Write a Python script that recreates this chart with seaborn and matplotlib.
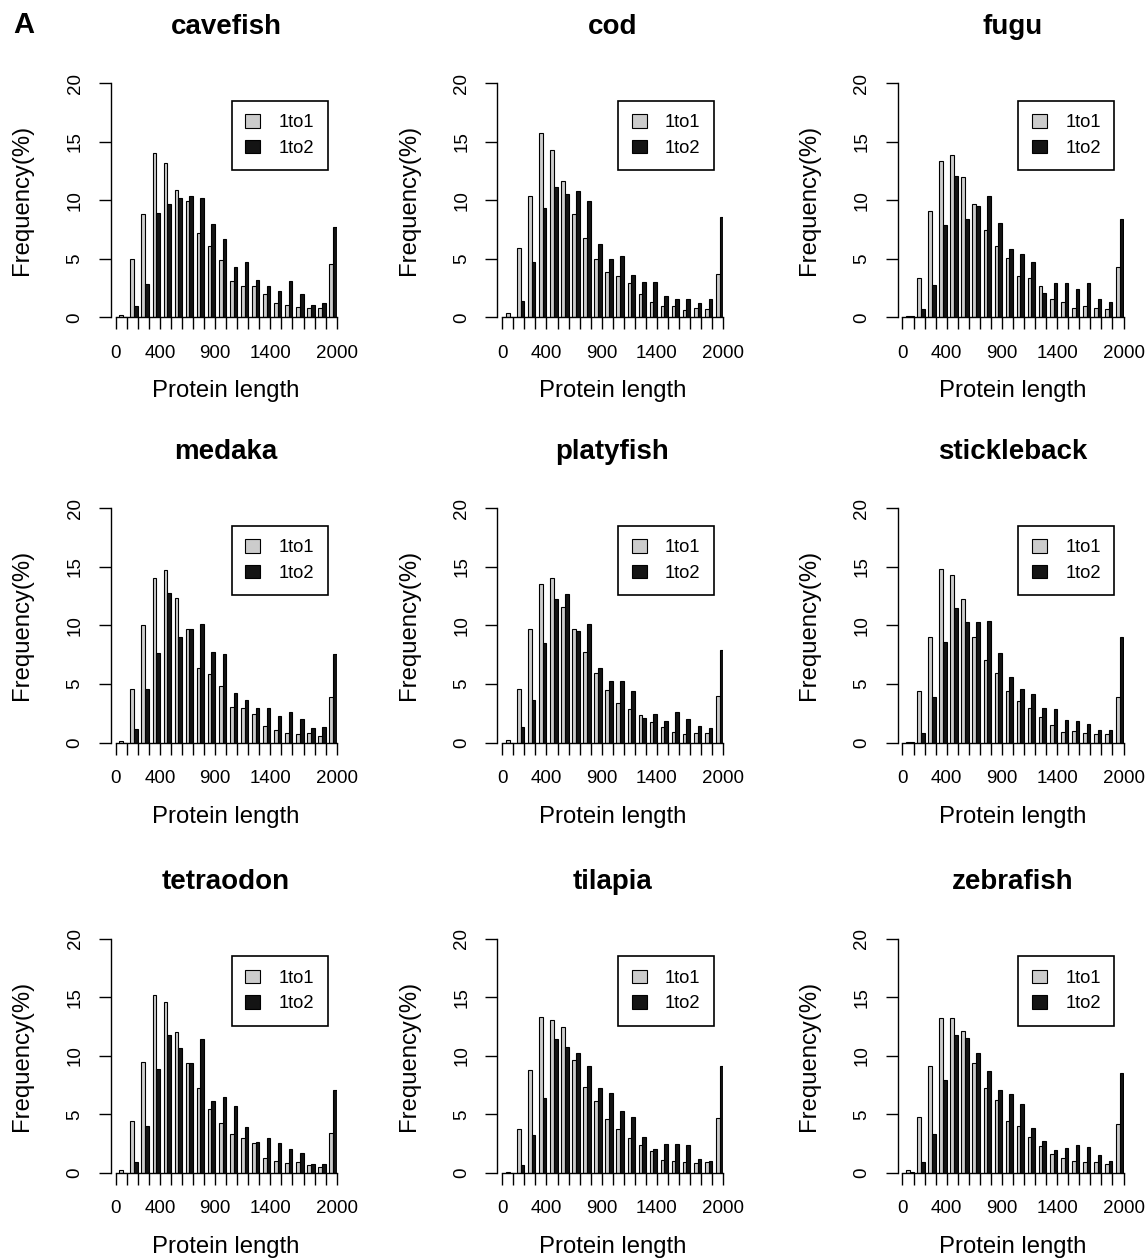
import numpy as np
import pandas as pd
import matplotlib
matplotlib.use("Agg")
import matplotlib.pyplot as plt
import seaborn as sns
from matplotlib.patches import Patch

# ---------------- data ----------------
species = ["cavefish", "cod", "fugu", "medaka", "platyfish", "stickleback",
           "tetraodon", "tilapia", "zebrafish"]
bin_starts = list(range(0, 2000, 100))          # 20 length bins of 100 aa
x_ticks = list(range(0, 2001, 100))
x_tick_labels = {0: "0", 400: "400", 900: "900", 1400: "1400", 2000: "2000"}
y_ticks = [0, 5, 10, 15, 20]
series = ["1to1", "1to2"]

cavefish_1to1 = [0.2, 4.95, 8.85, 14.0, 13.2, 10.9, 9.9, 7.2, 6.1, 4.9, 3.1, 2.7, 2.7, 2.0, 1.2, 1.1, 0.9, 0.8, 0.8, 4.6]
cavefish_1to2 = [0.0, 1.0, 2.85, 8.9, 9.7, 10.2, 10.4, 10.2, 8.0, 6.7, 4.3, 4.7, 3.2, 2.65, 2.3, 3.1, 2.0, 1.1, 1.2, 7.75]
cod_1to1 = [0.4, 5.9, 10.4, 15.7, 14.25, 11.6, 8.8, 6.8, 5.0, 3.9, 3.5, 2.9, 2.0, 1.3, 1.0, 0.95, 0.6, 0.8, 0.7, 3.75]
cod_1to2 = [0.0, 1.4, 4.75, 9.3, 11.15, 10.5, 10.8, 9.95, 6.3, 5.0, 5.25, 3.65, 3.0, 3.0, 1.8, 1.55, 1.55, 1.2, 1.6, 8.55]
fugu_1to1 = [0.1, 3.4, 9.05, 13.35, 13.9, 11.95, 9.65, 7.5, 6.1, 5.05, 3.5, 3.35, 2.7, 1.55, 1.35, 0.85, 1.0, 0.85, 0.75, 4.3]
fugu_1to2 = [0.15, 0.75, 2.8, 7.9, 12.1, 8.4, 9.5, 10.4, 8.05, 5.85, 5.4, 4.75, 2.1, 2.95, 2.9, 2.4, 2.9, 1.55, 1.3, 8.4]
medaka_1to1 = [0.1, 4.6, 10.05, 14.05, 14.75, 12.3, 9.7, 6.35, 5.8, 4.85, 3.05, 2.9, 2.45, 1.4, 1.05, 0.8, 0.75, 0.85, 0.55, 3.85]
medaka_1to2 = [0.0, 1.15, 4.6, 7.65, 12.75, 9.0, 9.7, 10.1, 7.7, 7.55, 4.2, 3.6, 2.9, 2.9, 2.3, 2.6, 2.0, 1.2, 1.3, 7.55]
platyfish_1to1 = [0.25, 4.6, 9.65, 13.55, 14.0, 11.55, 9.65, 7.7, 5.9, 4.45, 3.4, 2.85, 2.35, 1.75, 1.3, 0.9, 0.7, 0.8, 0.85, 4.0]
platyfish_1to2 = [0.0, 1.3, 3.6, 8.5, 12.25, 12.7, 9.55, 10.1, 6.35, 5.25, 5.25, 4.4, 2.1, 2.4, 1.85, 2.6, 2.0, 1.4, 1.2, 7.85]
stickleback_1to1 = [0.06, 4.4, 9.0, 14.8, 14.3, 12.25, 9.0, 7.05, 5.9, 4.4, 3.55, 2.95, 2.2, 1.5, 0.9, 1.0, 0.8, 0.75, 0.7, 3.85]
stickleback_1to2 = [0.06, 0.8, 3.85, 8.55, 11.5, 10.25, 10.25, 10.35, 7.65, 5.55, 4.6, 4.1, 2.9, 2.85, 1.95, 1.8, 1.6, 1.05, 1.05, 9.0]
tetraodon_1to1 = [0.25, 4.4, 9.45, 15.15, 14.55, 12.05, 9.35, 7.25, 5.5, 4.25, 3.35, 3.0, 2.55, 1.3, 1.0, 0.85, 0.95, 0.65, 0.55, 3.45]
tetraodon_1to2 = [0.0, 0.9, 4.05, 8.9, 11.8, 10.65, 9.35, 11.45, 6.1, 6.45, 5.75, 3.95, 2.65, 2.95, 2.55, 2.05, 1.7, 0.8, 0.8, 7.1]
tilapia_1to1 = [0.1, 3.75, 8.75, 13.3, 13.05, 12.45, 9.6, 7.35, 6.15, 4.6, 3.75, 3.0, 2.35, 1.9, 1.1, 1.05, 0.9, 0.85, 0.95, 4.65]
tilapia_1to2 = [0.0, 0.7, 3.25, 6.4, 11.4, 10.75, 10.2, 9.15, 7.25, 6.85, 5.3, 4.8, 3.05, 2.05, 2.5, 2.5, 2.4, 1.2, 1.05, 9.15]
zebrafish_1to1 = [0.25, 4.75, 9.15, 13.25, 13.25, 12.15, 9.4, 7.25, 6.25, 4.4, 4.0, 3.1, 2.3, 1.65, 1.25, 1.05, 0.9, 0.95, 0.75, 4.2]
zebrafish_1to2 = [0.1, 0.9, 3.35, 7.9, 11.75, 11.5, 10.25, 8.7, 7.05, 6.7, 5.85, 3.85, 2.7, 2.0, 2.1, 2.35, 2.2, 1.55, 1.05, 8.55]

values = {
    "cavefish": (cavefish_1to1, cavefish_1to2),
    "cod": (cod_1to1, cod_1to2),
    "fugu": (fugu_1to1, fugu_1to2),
    "medaka": (medaka_1to1, medaka_1to2),
    "platyfish": (platyfish_1to1, platyfish_1to2),
    "stickleback": (stickleback_1to1, stickleback_1to2),
    "tetraodon": (tetraodon_1to1, tetraodon_1to2),
    "tilapia": (tilapia_1to1, tilapia_1to2),
    "zebrafish": (zebrafish_1to1, zebrafish_1to2),
}

rows = []
for sp in species:
    for s, vals in zip(series, values[sp]):
        for b, v in zip(bin_starts, vals):
            rows.append({"species": sp, "bin": b, "type": s, "freq": v})
df = pd.DataFrame(rows)
# bar-pair sits in the right two thirds of each 100-wide bin (R barplot beside=TRUE look)
df["pos"] = df["bin"] + 200.0 / 3.0

# ---------------- style ----------------
sns.set_style("ticks")
plt.rcParams["font.family"] = ["Liberation Sans", "DejaVu Sans"]
plt.rcParams["axes.linewidth"] = 1.0
for key in ["text.color", "axes.labelcolor", "xtick.color", "ytick.color",
            "axes.edgecolor"]:
    plt.rcParams[key] = "black"

palette = {"1to1": "#CCCCCC", "1to2": "#141414"}

W, H = 1148, 1258
fig = plt.figure(figsize=(W / 100, H / 100), dpi=100)

row_tops = [83.0, 508.0, 938.5]
col_lefts = [110.7, 497.3, 897.5]
ax_w, ax_h = 226.0, 234.5

for i, sp in enumerate(species):
    r, c = divmod(i, 3)
    left = col_lefts[c]
    top = row_tops[r]
    ax = fig.add_axes([left / W, 1 - (top + ax_h) / H, ax_w / W, ax_h / H])
    sub = df[df["species"] == sp]
    sns.barplot(data=sub, x="pos", y="freq", hue="type", hue_order=series,
                palette=palette, native_scale=True, width=2 / 3, dodge=True,
                gap=0, saturation=1, edgecolor="black", linewidth=0.8,
                errorbar=None, legend=False, ax=ax)
    ax.set_xlim(-45, 2000)
    ax.set_ylim(0, 20)
    ax.spines["top"].set_visible(False)
    ax.spines["right"].set_visible(False)
    ax.spines["left"].set_bounds(0, 20)
    ax.spines["bottom"].set_bounds(0, 2000)
    ax.set_xticks(x_ticks)
    ax.set_xticklabels([x_tick_labels.get(t, "") for t in x_ticks])
    ax.set_yticks(y_ticks)
    ax.set_yticklabels([str(t) for t in y_ticks])
    ax.tick_params(axis="both", direction="out", length=8.5, width=1.0,
                   labelsize=13.5, pad=11, color="black", labelcolor="black")
    for lab in ax.get_yticklabels():
        lab.set_rotation(90)
        lab.set_va("center")
    ax.set_xlabel("Protein length", fontsize=17.2)
    ax.set_ylabel("Frequency(%)", fontsize=17.2)
    ax.xaxis.set_label_coords(0.51, -74 / ax_h)
    ax.xaxis.label.set_va("center")
    ax.yaxis.set_label_coords(-88.7 / ax_w, 0.5)
    ax.yaxis.label.set_va("center")
    ax.text(0.51, 1 + 56.5 / ax_h, sp, transform=ax.transAxes, fontsize=20,
            fontweight="bold", ha="center", va="center", color="black")
    handles = [Patch(facecolor=palette[s], edgecolor="black", linewidth=0.8)
               for s in series]
    leg = ax.legend(handles, series, loc="upper right",
                    bbox_to_anchor=(0.96, 1 - 17.5 / ax_h), borderaxespad=0,
                    fontsize=13.2, frameon=True, fancybox=False,
                    handlelength=0.8, handleheight=0.75, handletextpad=1.0,
                    labelspacing=0.45, borderpad=0.75)
    leg.get_frame().set_edgecolor("black")
    leg.get_frame().set_linewidth(1.2)
    leg.get_frame().set_alpha(1)
    for t in leg.get_texts():
        t.set_color("black")

fig.text(13 / W, 1 - 25 / H, "A", fontsize=21, fontweight="bold",
         ha="left", va="center", color="black")

fig.savefig("out.png", dpi=100, facecolor="white")
